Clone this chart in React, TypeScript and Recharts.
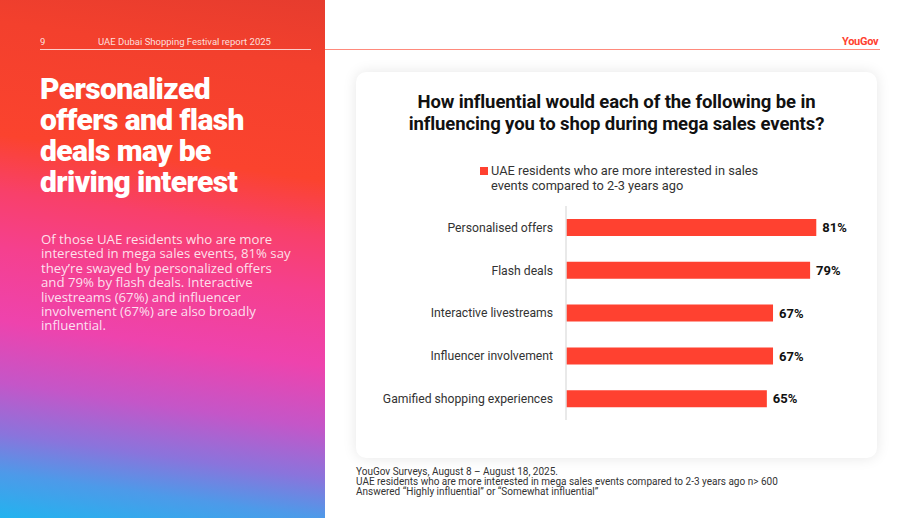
import React from "react";
import { BarChart, Bar, XAxis, YAxis, LabelList, Legend } from "recharts";

const categories = [
  "Personalised offers",
  "Flash deals",
  "Interactive livestreams",
  "Influencer involvement",
  "Gamified shopping experiences",
];
const values = [81, 79, 67, 67, 65];
const seriesName = "UAE residents who are more interested in sales events compared to 2-3 years ago";
const titleLines = [
  "How influential would each of the following be in",
  "influencing you to shop during mega sales events?",
];

const data = categories.map((c, i) => ({ name: c, value: values[i] }));

const RED = "#ff4130";
const SANS = "Roboto, 'Noto Sans', sans-serif";

const LegendContent = () => (
  <div style={{ display: "flex", alignItems: "flex-start", fontFamily: SANS, fontSize: 12.8, color: "#333", lineHeight: "15px" }}>
    <span style={{ display: "inline-block", width: 8, height: 8, background: RED, marginTop: 4, marginRight: 3, flex: "none" }} />
    <span style={{ width: 290 }}>{seriesName}</span>
  </div>
);

export default function App() {
  return (
    <div style={{ position: "absolute", left: 0, top: 0, width: 920, height: 518, background: "#fff", overflow: "hidden", fontFamily: SANS }}>
      {/* left gradient panel */}
      <div
        style={{
          position: "absolute",
          left: 0,
          top: 0,
          width: 325,
          height: 518,
          background:
            "linear-gradient(188deg, #e63c2e 0%, #f3402d 12%, #fb432e 32%, #f8406a 42%, #f5408e 52%, #ee43ad 65%, #c456c8 76%, #8a74dc 85%, #4d9ae9 92%, #22b3ef 100%)",
        }}
      />
      <div style={{ position: "absolute", left: 40, top: 36, fontSize: 9.5, color: "rgba(255,255,255,0.85)" }}>9</div>
      <div style={{ position: "absolute", left: 98, top: 36, fontSize: 9.5, color: "rgba(255,255,255,0.85)" }}>
        UAE Dubai Shopping Festival report 2025
      </div>
      <div style={{ position: "absolute", left: 40, top: 49, width: 271, height: 1, background: "rgba(255,255,255,0.75)" }} />
      <div style={{ position: "absolute", left: 325, top: 49, width: 555, height: 1, background: "#ff8a7c" }} />
      <div style={{ position: "absolute", left: 842, top: 35, fontSize: 11, fontWeight: 700, color: RED, letterSpacing: -0.3 }}>YouGov</div>

      <div
        style={{
          position: "absolute",
          left: 40,
          top: 73,
          width: 245,
          fontSize: 30,
          fontWeight: 900,
          lineHeight: "31px",
          color: "#fff",
          letterSpacing: -0.6,
        }}
      >
        Personalized offers and flash deals may be driving interest
      </div>
      <div
        style={{
          position: "absolute",
          left: 41,
          top: 232,
          width: 257,
          fontSize: 13.2,
          lineHeight: "14.4px",
          color: "rgba(255,255,255,0.85)",
          fontWeight: 400,
          fontFamily: "'Open Sans', sans-serif",
        }}
      >
        Of those UAE residents who are more interested in mega sales events, 81% say they’re swayed by personalized offers
        and 79% by flash deals. Interactive livestreams (67%) and influencer involvement (67%) are also broadly influential.
      </div>

      {/* card */}
      <div
        style={{
          position: "absolute",
          left: 356,
          top: 72,
          width: 521,
          height: 386,
          borderRadius: 10,
          background: "#fff",
          boxShadow: "0 0 14px rgba(0,0,0,0.10)",
        }}
      >
        {titleLines.map((t, i) => (
          <div
            key={i}
            style={{
              position: "absolute",
              left: 0,
              top: 19 + i * 22,
              width: 521,
              textAlign: "center",
              fontSize: 18.5,
              fontWeight: 700,
              lineHeight: "22px",
              color: "#111",
              letterSpacing: -0.1,
              whiteSpace: "nowrap",
            }}
          >
            {t}
          </div>
        ))}
        <div style={{ position: "absolute", left: 0, top: 0 }}>
          <BarChart
            width={521}
            height={386}
            data={data}
            layout="vertical"
            margin={{ top: 104, right: 2, bottom: 38, left: 0 }}
            barCategoryGap={0}
          >
            <XAxis type="number" domain={[0, 100]} hide />
            <YAxis
              type="category"
              dataKey="name"
              width={210}
              axisLine={{ stroke: "#e2e2e2", strokeWidth: 1.5 }}
              tickLine={false}
              tickMargin={7}
              tick={{ fontSize: 12.2, fill: "#333", fontFamily: SANS }}
              interval={0}
            />
            <Legend
              verticalAlign="top"
              content={<LegendContent />}
              wrapperStyle={{ position: "absolute", top: 91, left: 124, width: 320 }}
            />
            <Bar dataKey="value" name={seriesName} fill={RED} barSize={17} isAnimationActive={false}>
              <LabelList
                dataKey="value"
                position="right"
                offset={6}
                formatter={(v: number) => `${v}%`}
                style={{ fontSize: 13, fontWeight: 700, fill: "#111", fontFamily: SANS }}
              />
            </Bar>
          </BarChart>
        </div>
      </div>

      <div
        style={{
          position: "absolute",
          left: 356,
          top: 467,
          fontSize: 10,
          lineHeight: "10px",
          color: "#333",
        }}
      >
        YouGov Surveys, August 8 – August 18, 2025.
        <br />
        UAE residents who are more interested in mega sales events compared to 2-3 years ago n&gt; 600
        <br />
        Answered “Highly influential” or “Somewhat influential”
      </div>
    </div>
  );
}
